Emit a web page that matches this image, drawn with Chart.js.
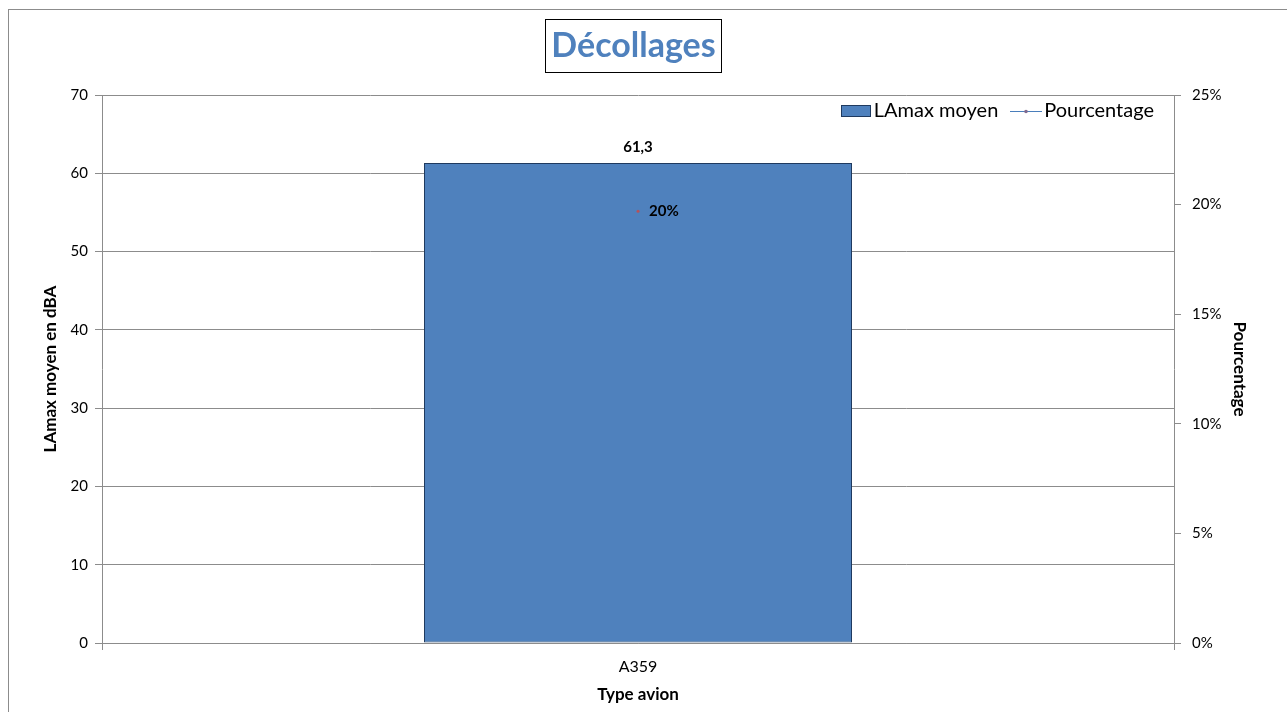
<!DOCTYPE html>
<html>
<head>
<meta charset="utf-8">
<script src="https://cdn.jsdelivr.net/npm/chart.js@4/dist/chart.umd.min.js"></script>
<style>
  body { margin: 0; background: #fff; }
  #wrap { width: 1287px; height: 712px; position: relative; }
</style>
</head>
<body>
<div id="wrap"><canvas id="myChart"></canvas></div>
<script>
const labels = ['A359'];
const lamax = [61.3];
const pourcentage = [0.197];
const leftTicks = { min: 0, max: 70, step: 10 };
const rightTicks = { min: 0, max: 0.25, step: 0.05 };

const FONT = 'Lato, "Open Sans", sans-serif';
const GRID = '#8c8c8c';
const BAR = '#4F81BD';
const BAR_EDGE = '#1f3a5f';
const LINE = '#4A7EBB';

// legend icons, drawn once
function barIcon() {
    const c = document.createElement('canvas');
    c.width = 30; c.height = 12;
    const x = c.getContext('2d');
    x.fillStyle = BAR;
    x.fillRect(0, 0, 30, 12);
    x.strokeStyle = BAR_EDGE;
    x.lineWidth = 1;
    x.strokeRect(0.5, 0.5, 29, 11);
    return c;
}
function lineIcon() {
    const c = document.createElement('canvas');
    c.width = 32; c.height = 6;
    const x = c.getContext('2d');
    x.strokeStyle = LINE;
    x.lineWidth = 1;
    x.beginPath(); x.moveTo(0, 3.5); x.lineTo(32, 3.5); x.stroke();
    x.fillStyle = '#7f6a8f';
    x.beginPath(); x.arc(16, 3.5, 1.8, 0, Math.PI * 2); x.fill();
    return c;
}

const extras = {
    id: 'extras',
    beforeDraw(chart) {
        const ctx = chart.ctx;
        ctx.save();
        ctx.strokeStyle = GRID;
        ctx.lineWidth = 1;
        ctx.strokeRect(8.5, 9.5, 1300, 720);
        ctx.restore();
    },
    afterDatasetsDraw(chart) {
        const ctx = chart.ctx;
        ctx.save();
        ctx.font = 'bold 15px ' + FONT;
        ctx.fillStyle = '#000';
        ctx.textBaseline = 'middle';
        chart.getDatasetMeta(1).data.forEach((b, i) => {
            ctx.textAlign = 'center';
            ctx.fillText(String(lamax[i]).replace('.', ','), b.x, b.y - 16);
        });
        chart.getDatasetMeta(0).data.forEach((p, i) => {
            ctx.textAlign = 'left';
            ctx.fillText(Math.round(pourcentage[i] * 100) + '%', p.x + 11, p.y);
        });
        ctx.restore();
    },
    afterDraw(chart) {
        const ctx = chart.ctx;
        const area = chart.chartArea;
        ctx.save();
        // box round the title
        const tb = chart.titleBlock;
        ctx.font = 'bold 34px ' + FONT;
        const w = ctx.measureText(chart.options.plugins.title.text).width;
        const cx = (tb.left + tb.right) / 2;
        ctx.strokeStyle = '#000';
        ctx.lineWidth = 1;
        ctx.strokeRect(Math.round(cx - w / 2 - 6) + 0.5, 19.5, Math.round(w + 12), 53);

        // legend, top right inside the plot
        ctx.font = '20px ' + FONT;
        ctx.fillStyle = '#000';
        ctx.textBaseline = 'middle';
        ctx.textAlign = 'left';
        const ds = chart.data.datasets;
        const barLbl = ds[1].label, lineLbl = ds[0].label;
        const cy = area.top + 16;
        let x = area.right - 20 - ctx.measureText(lineLbl).width;
        ctx.fillText(lineLbl, x, cy);
        const li = lineIcon();
        x -= 2 + li.width;
        ctx.drawImage(li, Math.round(x), Math.round(cy - 3));
        x -= 12 + ctx.measureText(barLbl).width;
        ctx.fillText(barLbl, x, cy);
        const bi = barIcon();
        x -= 3 + bi.width;
        ctx.drawImage(bi, Math.round(x), Math.round(cy - 6));
        ctx.restore();
    }
};

const data = {
    labels: labels,
    datasets: [{
        type: 'line',
        label: 'Pourcentage',
        data: pourcentage,
        yAxisID: 'y1',
        borderColor: LINE,
        backgroundColor: '#b5525a',
        pointRadius: 1.5,
        pointBorderWidth: 0,
        order: 0
    }, {
        type: 'bar',
        label: 'LAmax moyen',
        data: lamax,
        yAxisID: 'y',
        backgroundColor: BAR,
        borderColor: BAR_EDGE,
        borderWidth: 1,
        borderSkipped: false,
        categoryPercentage: 1,
        barPercentage: 428 / 1072,
        order: 1
    }]
};

const config = {
    type: 'bar',
    data: data,
    plugins: [extras],
    options: {
        responsive: true,
        maintainAspectRatio: false,
        animation: false,
        layout: { padding: { left: 0, right: 20, top: 0, bottom: 0 } },
        plugins: {
            title: {
                display: true,
                text: 'Décollages',
                color: BAR,
                font: { family: FONT, size: 34, weight: 'bold' },
                padding: { top: 25.6, bottom: 28.6 }
            },
            legend: { display: false },
            tooltip: { enabled: false }
        },
        scales: {
            x: {
                offset: true,
                grid: { display: true, drawOnChartArea: false, color: GRID, tickLength: 7 },
                border: { color: GRID },
                ticks: { color: '#000', font: { family: FONT, size: 16 }, padding: 7 },
                title: { display: true, text: 'Type avion', color: '#000', font: { family: FONT, size: 17, weight: 'bold' }, padding: { top: 0, bottom: 6.8 } },
                afterFit(s) { s.height = 69; }
            },
            y: {
                position: 'left',
                min: leftTicks.min, max: leftTicks.max,
                ticks: { stepSize: leftTicks.step, color: '#000', font: { family: FONT, size: 15 }, padding: 7 },
                grid: { color: GRID, tickLength: 7 },
                border: { color: GRID },
                title: { display: true, text: 'LAmax moyen en dBA', color: '#000', font: { family: FONT, size: 17, weight: 'bold' }, padding: { top: 40, bottom: 0 } },
                afterFit(s) { s.width = 102; }
            },
            y1: {
                position: 'right',
                min: rightTicks.min, max: rightTicks.max,
                ticks: {
                    stepSize: rightTicks.step, color: '#000', font: { family: FONT, size: 15 }, padding: 11,
                    callback: v => Math.round(v * 100) + '%'
                },
                grid: { drawOnChartArea: false, color: GRID, tickLength: 7 },
                border: { color: GRID },
                title: { display: true, text: 'Pourcentage', color: '#000', font: { family: FONT, size: 17, weight: 'bold' }, padding: { top: 17, bottom: 0 } },
                afterFit(s) { s.width = 93; }
            }
        }
    }
};

const myChart = new Chart(document.getElementById('myChart'), config);
</script>
</body>
</html>
